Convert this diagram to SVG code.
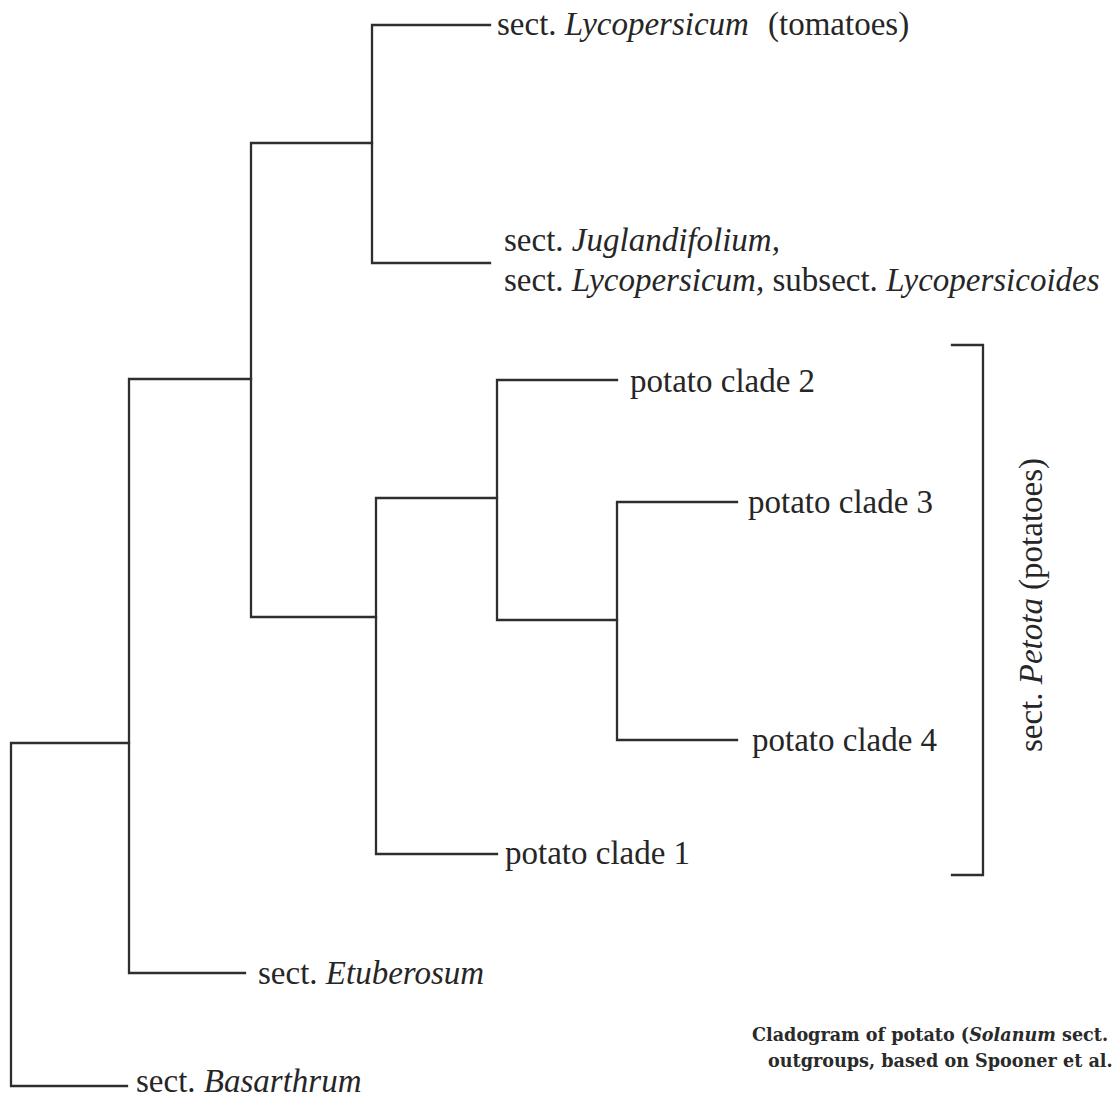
<svg xmlns="http://www.w3.org/2000/svg" width="1113" height="1098" viewBox="0 0 1113 1098">
<style>
.br{fill:none;stroke:#2e2e2e;stroke-width:2.3;stroke-linecap:square}
.lb{font-family:"Liberation Serif","Times New Roman",serif;font-size:33px;fill:#262626}
.it{font-style:italic}
.cap{font-family:"DejaVu Serif","Liberation Serif",serif;font-size:17.6px;font-weight:bold;fill:#2a2a2a}
</style>
<rect width="1113" height="1098" fill="#ffffff"/>
<g id="connectors">
<path class="br" d="M490,25 H372 V263 H490"/>
<path class="br" d="M372,143 H251 V617 H376"/>
<path class="br" d="M497,498 H376 V854 H497"/>
<path class="br" d="M617,380 H497 V620 H617"/>
<path class="br" d="M737,502 H617 V740 H737"/>
<path class="br" d="M251,379 H129 V973 H245"/>
<path class="br" d="M129,743 H11 V1086 H127"/>
<path class="br" d="M952,345 H983 V875 H952"/>
</g>
<g id="node-tomatoes"><text class="lb" x="497" y="35">sect. <tspan class="it">Lycopersicum</tspan><tspan x="768">(tomatoes)</tspan></text></g>
<g id="node-juglandifolium"><text class="lb" x="504" y="251">sect. <tspan class="it">Juglandifolium,</tspan></text><text class="lb" x="504" y="291">sect. <tspan class="it">Lycopersicum,</tspan> subsect. <tspan class="it">Lycopersicoides</tspan></text></g>
<g id="node-clade2"><text class="lb" x="630" y="392">potato clade 2</text></g>
<g id="node-clade3"><text class="lb" x="748" y="513">potato clade 3</text></g>
<g id="node-clade4"><text class="lb" x="752" y="751">potato clade 4</text></g>
<g id="node-clade1"><text class="lb" x="505" y="864">potato clade 1</text></g>
<g id="node-etuberosum"><text class="lb" x="258" y="984">sect. <tspan class="it">Etuberosum</tspan></text></g>
<g id="node-basarthrum"><text class="lb" x="136" y="1092">sect. <tspan class="it">Basarthrum</tspan></text></g>
<g id="node-petota"><text class="lb" text-anchor="middle" transform="translate(1042,605) rotate(-90)">sect. <tspan class="it">Petota</tspan> (potatoes)</text></g>
<g id="caption"><text class="cap" x="752" y="1041">Cladogram of potato (<tspan font-style="italic">Solanum</tspan> sect.</text><text class="cap" x="768" y="1067">outgroups, based on Spooner et al.</text></g>
</svg>
